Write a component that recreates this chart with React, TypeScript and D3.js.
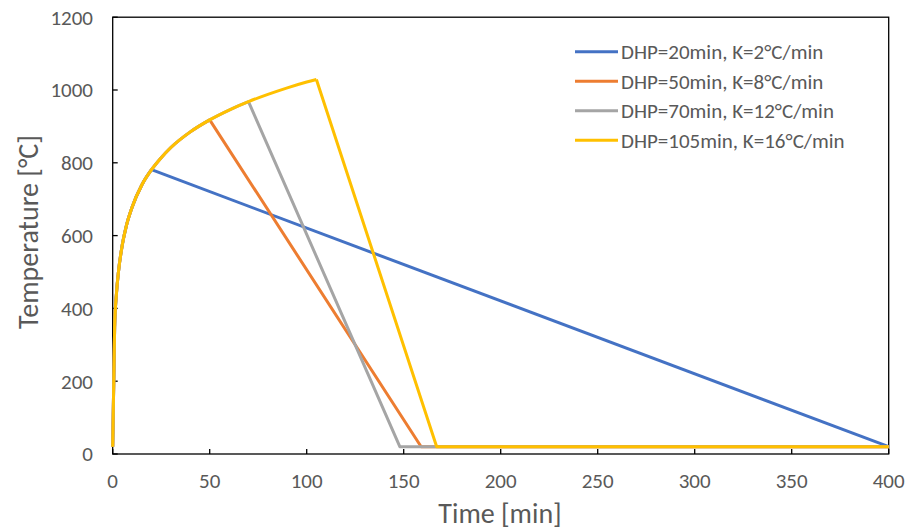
import React from "react";
import * as d3 from "d3";

// ISO-like heating curve
const heatTime = [0, 1, 2, 3, 5, 7, 10, 15, 20, 25, 30, 40, 50, 60, 70, 80, 90, 100, 105];
const heatTemp = [20, 349, 445, 502, 576, 626, 678, 739, 781, 814, 842, 885, 918, 945, 968, 988, 1006, 1022, 1029];

const seriesNames = [
  "DHP=20min, K=2°C/min",
  "DHP=50min, K=8°C/min",
  "DHP=70min, K=12°C/min",
  "DHP=105min, K=16°C/min",
];
const dhp = [20, 50, 70, 105];
const peakTemp = [781, 918, 968, 1029];
const coolEndTime = [400, 159, 148, 167];
const ambientTemp = 20;
const endTime = 400;
const colors = ["#4472C4", "#ED7D31", "#A5A5A5", "#FFC000"];

const xTicks = [0, 50, 100, 150, 200, 250, 300, 350, 400];
const yTicks = [0, 200, 400, 600, 800, 1000, 1200];

const W = 908;
const H = 531;
const FONT = "Carlito, Calibri, 'Open Sans', sans-serif";
const TXT = "#595959";

export default function App() {
  const x = d3.scaleLinear().domain([0, 400]).range([112.7, 888.7]);
  const y = d3.scaleLinear().domain([0, 1200]).range([454, 17.2]);

  const heatLine = d3
    .line<[number, number]>()
    .x((d) => x(d[0]))
    .y((d) => y(d[1]))
    .curve(d3.curveMonotoneX);
  const straight = d3
    .line<[number, number]>()
    .x((d) => x(d[0]))
    .y((d) => y(d[1]));

  const paths = dhp.map((tEnd, i) => {
    const heat: [number, number][] = [];
    heatTime.forEach((t, j) => {
      if (t < tEnd) heat.push([t, heatTemp[j]]);
    });
    heat.push([tEnd, peakTemp[i]]);
    const cool: [number, number][] = [
      [tEnd, peakTemp[i]],
      [coolEndTime[i], ambientTemp],
      [endTime, ambientTemp],
    ];
    return { heat: heatLine(heat) || "", cool: straight(cool) || "" };
  });

  const [x0, x1] = x.range();
  const [y0, y1] = y.range();

  return (
    <svg width={W} height={H} style={{ position: "absolute", left: 0, top: 0 }}>
      <rect x={0} y={0} width={W} height={H} fill="#fff" />
      {/* frame */}
      <rect x={x0} y={y1} width={x1 - x0} height={y0 - y1} fill="none" stroke="#000" strokeWidth={1.3} />
      {/* ticks */}
      {yTicks.map((t) => (
        <g key={"y" + t}>
          <line x1={x0} x2={x0 + 5} y1={y(t)} y2={y(t)} stroke="#000" strokeWidth={1.3} />
          <text x={93} y={y(t)} dy="0.35em" textAnchor="end" fontFamily={FONT} fontSize={21} fill={TXT}>
            {t}
          </text>
        </g>
      ))}
      {xTicks.map((t) => (
        <g key={"x" + t}>
          <line x1={x(t)} x2={x(t)} y1={y0} y2={y0 - 5} stroke="#000" strokeWidth={1.3} />
          <text x={x(t)} y={481} dy="0.35em" textAnchor="middle" fontFamily={FONT} fontSize={21} fill={TXT}>
            {t}
          </text>
        </g>
      ))}
      {/* series */}
      {paths.map((p, i) => (
        <g key={"s" + i}>
          <path d={p.cool} fill="none" stroke={colors[i]} strokeWidth={3} strokeLinejoin="round" />
          <path d={p.heat} fill="none" stroke={colors[i]} strokeWidth={3} strokeLinejoin="round" />
        </g>
      ))}
      {/* axis titles */}
      <text
        transform={`translate(38,232) rotate(-90)`}
        textAnchor="middle"
        fontFamily={FONT}
        fontSize={28}
        fill={TXT}
      >
        Temperature [°C]
      </text>
      <text x={500} y={523} textAnchor="middle" fontFamily={FONT} fontSize={28} fill={TXT}>
        Time [min]
      </text>
      {/* legend */}
      {seriesNames.map((n, i) => {
        const ly = 51.7 + i * 29.5;
        return (
          <g key={"l" + i}>
            <line x1={575} x2={618} y1={ly} y2={ly} stroke={colors[i]} strokeWidth={3} />
            <text x={621} y={ly} dy="0.35em" fontFamily={FONT} fontSize={21} fill={TXT}>
              {n}
            </text>
          </g>
        );
      })}
    </svg>
  );
}
